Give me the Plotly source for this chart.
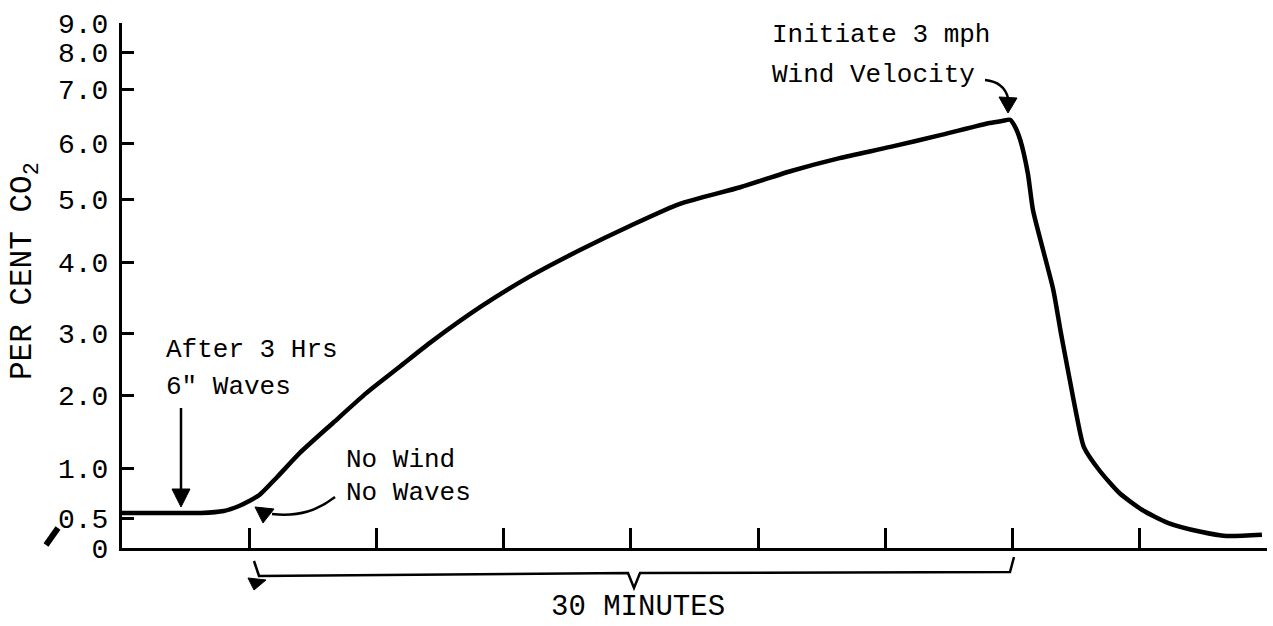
import numpy as np
import plotly.graph_objects as go

# ---------------- data ----------------
# time in minutes, 0 = "No Wind / No Waves", 30 = "Initiate 3 mph wind"
time_min = [-5.0, -3.5, -1.9, -1.0, -0.4, 0.0, 0.4, 1.1, 2.0, 3.3, 4.6, 5.9, 7.1,
            9.1, 11.0, 13.0, 15.0, 16.9, 19.3, 21.3, 23.2, 25.2, 27.2, 29.1, 29.6,
            29.9, 30.1, 30.3, 30.6, 30.8, 31.2, 31.6, 31.9, 32.2, 32.5, 32.8, 33.4,
            34.2, 35.1, 36.1, 37.4, 38.4, 39.8]
co2_pct = [0.55, 0.55, 0.55, 0.57, 0.62, 0.67, 0.73, 0.91, 1.21, 1.62, 2.03, 2.45, 2.84,
           3.37, 3.79, 4.19, 4.58, 4.92, 5.21, 5.50, 5.73, 5.93, 6.15, 6.37, 6.41,
           6.43, 6.30, 6.06, 5.46, 4.83, 4.19, 3.61, 3.00, 2.35, 1.75, 1.29, 0.98,
           0.75, 0.58, 0.42, 0.27, 0.20, 0.22]

# y-axis tick labels (non-linear recorder calibration scale)
y_tick_values = [0.0, 0.5, 1.0, 2.0, 3.0, 4.0, 5.0, 6.0, 7.0, 8.0, 9.0]
y_tick_labels = ["0", "0.5", "1.0", "2.0", "3.0", "4.0", "5.0", "6.0", "7.0", "8.0", "9.0"]
# x-axis minor tick marks every 5 minutes (unlabelled)
x_tick_values = [0, 5, 10, 15, 20, 25, 30, 35, 40]

# ---------------- scale definition ----------------
# position of each y tick value on the (linear) drawing axis, 0..525
SCALE_POS = [0, 30, 80, 153, 215, 286, 349, 405, 459, 496, 525]


def yscale(v):
    return np.interp(v, y_tick_values, SCALE_POS)


W, H = 1273, 626
L, R, T, B = 122, 1267, 23, 548   # plot-area edges in pixels


def px(xp):
    return (xp - L) / (R - L)


def py(yp):
    return (B - yp) / (B - T)


def path(points, close=False):
    s = "M " + " L ".join(f"{px(a):.5f},{py(b):.5f}" for a, b in points)
    return s + (" Z" if close else "")


def cpath(start, c1, c2, end):
    return (f"M {px(start[0]):.5f},{py(start[1]):.5f} "
            f"C {px(c1[0]):.5f},{py(c1[1]):.5f} {px(c2[0]):.5f},{py(c2[1]):.5f} "
            f"{px(end[0]):.5f},{py(end[1]):.5f}")


FONT = "Liberation Mono"
INK = "black"

fig = go.Figure()
fig.add_trace(go.Scatter(
    x=time_min, y=yscale(co2_pct), mode="lines",
    line=dict(color=INK, width=4.5, shape="spline", smoothing=0.6),
    cliponaxis=False, hoverinfo="skip"))

fig.update_layout(
    width=W, height=H,
    margin=dict(l=L, r=W - R, t=T, b=H - B, pad=0),
    paper_bgcolor="white", plot_bgcolor="white",
    showlegend=False,
    xaxis=dict(range=[-5, 40], tickvals=x_tick_values, ticks="inside", ticklen=20,
               tickwidth=2.5, tickcolor=INK, showticklabels=False, showline=True,
               linecolor=INK, linewidth=3, showgrid=False, zeroline=False),
    yaxis=dict(range=[0, 525], tickvals=list(yscale(y_tick_values)), ticktext=y_tick_labels,
               ticks="inside", ticklen=12, tickwidth=2.5, tickcolor=INK, showline=True,
               linecolor=INK, linewidth=3, showgrid=False, zeroline=False,
               ticklabelstandoff=5, tickfont=dict(family=FONT, size=28, color=INK)),
)

shapes = []
# straight arrow "After 3 Hrs"
shapes.append(dict(type="path", path=path([(181, 408), (181, 494)]),
                   line=dict(color=INK, width=2.5)))
shapes.append(dict(type="path", path=path([(172, 489), (190, 489), (181, 507)], close=True),
                   fillcolor=INK, line=dict(color=INK, width=1)))
# curved arrow "No Wind / No Waves"
shapes.append(dict(type="path", path=cpath((335, 497), (318, 510), (300, 517), (272, 514)),
                   line=dict(color=INK, width=2.5)))
shapes.append(dict(type="path", path=path([(255, 507), (274, 509), (263, 523)], close=True),
                   fillcolor=INK, line=dict(color=INK, width=1)))
# curved arrow "Initiate 3 mph"
shapes.append(dict(type="path", path=cpath((985, 80), (995, 81), (1005, 86), (1008, 98)),
                   line=dict(color=INK, width=2.5)))
shapes.append(dict(type="path", path=path([(999, 97), (1017, 98), (1008, 113)], close=True),
                   fillcolor=INK, line=dict(color=INK, width=1)))
# 30-minute bracket
shapes.append(dict(type="path",
                   path=path([(254, 561), (259, 576), (628, 573), (634, 588), (640, 573),
                              (1010, 572), (1014, 557)]),
                   line=dict(color=INK, width=2.5)))
shapes.append(dict(type="path", path=path([(248, 578), (266, 580), (254, 590)], close=True),
                   fillcolor=INK, line=dict(color=INK, width=1)))
# stray pointer mark near the origin
shapes.append(dict(type="path", path=path([(46, 545), (58, 528)]),
                   line=dict(color=INK, width=6)))
for s in shapes:
    s.update(xref="paper", yref="paper", layer="above")
fig.update_layout(shapes=shapes)


def label(text, xl, yc, size=26, anchor="left"):
    fig.add_annotation(text=text, x=px(xl), y=py(yc), xref="paper", yref="paper",
                       xanchor=anchor, yanchor="middle", showarrow=False,
                       font=dict(family=FONT, size=size, color=INK))


label("After 3 Hrs", 164, 350)
label('6" Waves', 164, 387)
label("No Wind", 344, 460)
label("No Waves", 344, 493)
label("Initiate 3 mph", 770, 35)
label("Wind Velocity", 770, 75)
label("30 MINUTES", 638, 607, size=29, anchor="center")

fig.add_annotation(text="PER CENT CO<sub>2</sub>", x=px(25), y=py(271), xref="paper",
                   yref="paper", xanchor="center", yanchor="middle", textangle=-90,
                   showarrow=False, font=dict(family=FONT, size=31, color=INK))

fig.write_html("out.html", config={"displayModeBar": False},
               post_script="document.body.style.margin='0';")
